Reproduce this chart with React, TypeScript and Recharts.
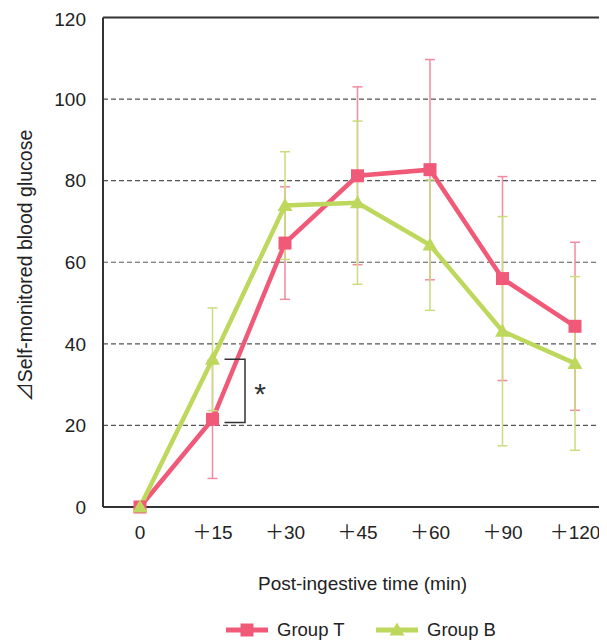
import React from 'react';
import { LineChart, Line, XAxis, YAxis, CartesianGrid, ErrorBar, ReferenceLine, Legend } from 'recharts';

const categories = ['0', '＋15', '＋30', '＋45', '＋60', '＋90', '＋120'];
const groupT = [0, 21.5, 64.7, 81.2, 82.7, 56.0, 44.3];
const groupB = [0, 36.2, 73.9, 74.6, 64.2, 43.1, 35.2];
const errT = [0, 14.5, 13.8, 21.8, 27.0, 25.0, 20.6];
const errB = [0, 12.6, 13.2, 20.0, 16.0, 28.1, 21.3];
const yTicks = [0, 20, 40, 60, 80, 100, 120];
const sigCategory = '＋15';
const sigRange = [36.2, 20.7];

const data = categories.map((c, i) => ({
  time: c,
  t: groupT[i],
  b: groupB[i],
  et: errT[i],
  eb: errB[i],
}));

const PINK = '#F05A78';
const PINK_ERR = '#F28AA0';
const GREEN = '#BDD85C';
const GREEN_ERR = '#C8DD7C';
const FONT = '"Liberation Sans", Arial, "Noto Sans CJK JP", sans-serif';

const SquareDot = (props: any) => {
  const { cx, cy, index } = props;
  if (cx == null || cy == null) return <g key={`sq-${index}`} />;
  return <rect key={`sq-${index}`} x={cx - 6.5} y={cy - 6.5} width={13} height={13} fill={PINK} />;
};

const TriDot = (props: any) => {
  const { cx, cy, index } = props;
  if (cx == null || cy == null) return <g key={`tr-${index}`} />;
  return (
    <polygon
      key={`tr-${index}`}
      points={`${cx},${cy - 7.5} ${cx + 7.5},${cy + 5.5} ${cx - 7.5},${cy + 5.5}`}
      fill={GREEN}
    />
  );
};

const Bracket = (props: any) => {
  const { x1, y1, y2 } = props;
  if (x1 == null) return <g />;
  const xa = x1 + 12;
  const xb = x1 + 32.5;
  const mid = (y1 + y2) / 2;
  return (
    <g>
      <path d={`M${xa},${y1} H${xb} V${y2} H${xa}`} fill="none" stroke="#333" strokeWidth={1.5} />
      <text x={xb + 15} y={mid + 13} textAnchor="middle" fontSize={30} fontFamily={FONT} fill="#333">
        *
      </text>
    </g>
  );
};

const renderLegend = () => (
  <div style={{ height: 34, position: 'relative' }}>
    <svg width={604} height={34} style={{ display: 'block' }}>
      <line x1={218} y1={23} x2={260} y2={23} stroke={PINK} strokeWidth={5} />
      <rect x={232.5} y={16.5} width={13} height={13} fill={PINK} />
      <text x={269} y={29} fontSize={18.5} fontFamily={FONT} fill="#222">
        Group T
      </text>
      <line x1={368} y1={23} x2={410} y2={23} stroke={GREEN} strokeWidth={5} />
      <polygon points="389,15.5 396.5,28.5 381.5,28.5" fill={GREEN} />
      <text x={419} y={29} fontSize={18.5} fontFamily={FONT} fill="#222">
        Group B
      </text>
    </svg>
  </div>
);

const YLabel = (props: any) => {
  const vb = props.viewBox || {};
  const cx = 17;
  const cy = (vb.y || 0) + (vb.height || 0) / 2 + 3.5;
  return (
    <text
      x={cx}
      y={cy}
      transform={`rotate(-90 ${cx} ${cy})`}
      textAnchor="middle"
      dominantBaseline="central"
      fontSize={19.5}
      fontFamily={FONT}
      fill="#222"
    >
      ⊿Self-monitored blood glucose
    </text>
  );
};

export default function App() {
  return (
    <div style={{ width: 599, height: 633, overflow: 'hidden' }}>
      <LineChart width={604} height={633} data={data} margin={{ top: 9.5, right: 0, bottom: 0, left: 0 }}>
        <CartesianGrid horizontal vertical={false} stroke="#555" strokeDasharray="5 3" strokeWidth={1.2} />
        <XAxis
          dataKey="time"
          padding={{ left: 37, right: 37 }}
          height={100}
          tickLine={false}
          tickSize={0}
          tickMargin={19}
          axisLine={{ stroke: '#333', strokeWidth: 2 }}
          tick={{ fontSize: 19, fontFamily: FONT, fill: '#222' }}
          interval={0}
          label={{ value: 'Post-ingestive time (min)', position: 'insideBottom', offset: 17, dx: 5, fontSize: 19, fontFamily: FONT, fill: '#222' }}
        />
        <YAxis
          width={95}
          domain={[0, 120]}
          ticks={yTicks}
          tickLine={false}
          tickSize={0}
          tickMargin={17}
          axisLine={{ stroke: '#333', strokeWidth: 2 }}
          tick={{ fontSize: 19, fontFamily: FONT, fill: '#222' }}
          label={<YLabel />}
        />
        <ReferenceLine y={120} stroke="#333" strokeWidth={2} />
        <Line
          dataKey="t"
          name="Group T"
          stroke={PINK}
          strokeWidth={4.5}
          dot={SquareDot}
          activeDot={false}
          isAnimationActive={false}
        >
          <ErrorBar dataKey="et" direction="y" width={5} stroke={PINK_ERR} strokeWidth={1.5} />
        </Line>
        <Line
          dataKey="b"
          name="Group B"
          stroke={GREEN}
          strokeWidth={4.5}
          dot={TriDot}
          activeDot={false}
          isAnimationActive={false}
        >
          <ErrorBar dataKey="eb" direction="y" width={5} stroke={GREEN_ERR} strokeWidth={1.5} />
        </Line>
        <ReferenceLine
          segment={[
            { x: sigCategory, y: sigRange[0] },
            { x: sigCategory, y: sigRange[1] },
          ]}
          shape={Bracket}
        />
        <Legend verticalAlign="bottom" content={renderLegend} />
      </LineChart>
    </div>
  );
}
